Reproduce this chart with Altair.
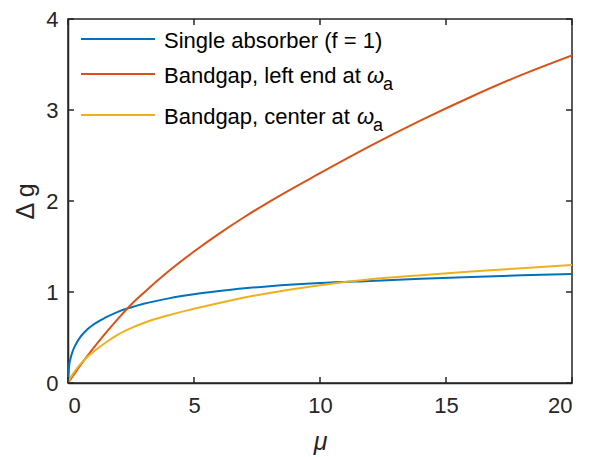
import altair as alt
import pandas as pd

# ---- data ----
mu = [0, 0.05, 0.1, 0.2, 0.3, 0.5, 0.75, 1, 1.5, 2, 2.5, 3, 4, 5, 6, 7, 8, 10, 12, 14, 16, 18, 20]
g_single = [0, 0.20, 0.27, 0.36, 0.42, 0.51, 0.585, 0.64, 0.72, 0.785, 0.83, 0.87, 0.93, 0.975,
            1.01, 1.04, 1.063, 1.098, 1.122, 1.145, 1.166, 1.183, 1.198]
g_left = [0, 0.02, 0.04, 0.08, 0.12, 0.20, 0.29, 0.38, 0.55, 0.71, 0.86, 0.99, 1.23, 1.445,
          1.642, 1.824, 1.994, 2.306, 2.606, 2.886, 3.146, 3.386, 3.60]
g_center = [0, 0.035, 0.06, 0.10, 0.14, 0.21, 0.28, 0.34, 0.445, 0.535, 0.603, 0.66, 0.745, 0.815,
            0.88, 0.94, 0.99, 1.075, 1.14, 1.185, 1.225, 1.262, 1.297]
series_names = ["Single absorber (f = 1)", "Bandgap, left end at", "Bandgap, center at"]
series_colors = ["#0072BD", "#D95319", "#EDB120"]
x_ticks = [0, 5, 10, 15, 20]
y_ticks = [0, 1, 2, 3, 4]

W, H = 504, 364
FONT = "Liberation Sans"
AX = "#262626"
FS = 22

rows = []
for name, vals in zip(series_names, [g_single, g_left, g_center]):
    for m, g in zip(mu, vals):
        rows.append({"mu": m, "g": g, "series": name})
df = pd.DataFrame(rows)

xs = alt.Scale(domain=[0, 20], nice=False, zero=False)
ys = alt.Scale(domain=[0, 4], nice=False, zero=False)

lines = alt.Chart(df).mark_line(strokeWidth=2, interpolate="monotone", clip=True).encode(
    x=alt.X("mu:Q", scale=xs, axis=alt.Axis(
        values=x_ticks, format="d", ticks=False, grid=False, title="μ",
        labelFont=FONT, labelFontSize=FS, labelColor=AX, labelPadding=12,
        domainColor=AX, domainWidth=1.5,
        titleFont=FONT, titleFontSize=25, titleFontStyle="italic", titleFontWeight="normal",
        titleColor=AX, titlePadding=13)),
    y=alt.Y("g:Q", scale=ys, axis=alt.Axis(
        values=y_ticks, format="d", ticks=False, grid=False, title="Δ g",
        labelFont=FONT, labelFontSize=FS, labelColor=AX, labelPadding=10,
        domainColor=AX, domainWidth=1.5,
        titleFont=FONT, titleFontSize=25, titleFontWeight="normal",
        titleColor=AX, titlePadding=7)),
    color=alt.Color("series:N", scale=alt.Scale(domain=series_names, range=series_colors), legend=None),
)

xt = pd.DataFrame({"mu": x_ticks})
yt = pd.DataFrame({"g": y_ticks})
tk = 6
tick_layers = [
    alt.Chart(xt).mark_rule(color=AX, strokeWidth=1.5).encode(x=alt.X("mu:Q", scale=xs), y=alt.value(H), y2=alt.value(H - tk)),
    alt.Chart(xt).mark_rule(color=AX, strokeWidth=1.5).encode(x=alt.X("mu:Q", scale=xs), y=alt.value(0), y2=alt.value(tk)),
    alt.Chart(yt).mark_rule(color=AX, strokeWidth=1.5).encode(y=alt.Y("g:Q", scale=ys), x=alt.value(0), x2=alt.value(tk)),
    alt.Chart(yt).mark_rule(color=AX, strokeWidth=1.5).encode(y=alt.Y("g:Q", scale=ys), x=alt.value(W), x2=alt.value(W - tk)),
]

one = pd.DataFrame({"k": [0]})
legend_layers = []
row_y = [20, 55, 96]
for name, col, ry in zip(series_names, series_colors, row_y):
    legend_layers.append(alt.Chart(one).mark_rule(color=col, strokeWidth=2).encode(
        x=alt.value(13), x2=alt.value(87), y=alt.value(ry)))
    legend_layers.append(alt.Chart(one).mark_text(
        text=name, align="left", baseline="middle", font=FONT, fontSize=FS, color="black").encode(
        x=alt.value(96), y=alt.value(ry + 2)))
# omega with subscript a for rows 2 and 3
for ry, wx in zip(row_y[1:], [299, 289]):
    legend_layers.append(alt.Chart(one).mark_text(
        text="ω", align="left", baseline="middle", font=FONT, fontSize=FS, fontStyle="italic", color="black").encode(
        x=alt.value(wx), y=alt.value(ry + 2)))
    legend_layers.append(alt.Chart(one).mark_text(
        text="a", align="left", baseline="middle", font=FONT, fontSize=18, color="black").encode(
        x=alt.value(wx + 16), y=alt.value(ry + 11)))

chart = alt.layer(lines, *tick_layers, *legend_layers).properties(
    width=W, height=H,
    autosize=alt.AutoSizeParams(type="none"),
    padding={"left": 68, "top": 19, "right": 17, "bottom": 74},
    background="white",
).configure_view(stroke=AX, strokeWidth=1.5)

chart.save("out.html", embed_options={"renderer": "svg", "actions": False})
